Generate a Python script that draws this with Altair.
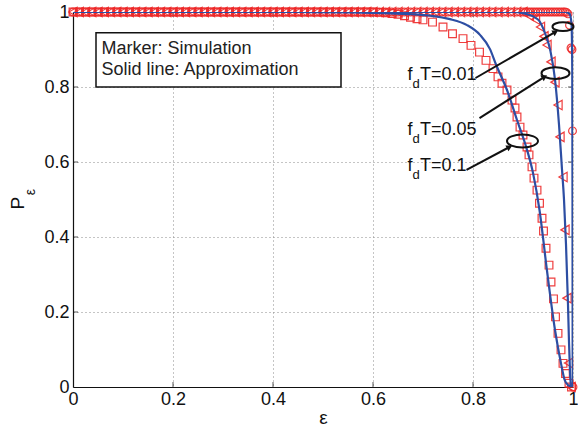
import altair as alt
import pandas as pd

FONT = "Liberation Sans"
RED = "#ee2a2a"
BLUE = "#2d4ea3"

# ---- simulation markers ----
flat_eps = [i / 80 for i in range(73)]  # epsilon sampling grid along P=1 (0 .. 0.9)

sq_eps_curve = [0.613, 0.625, 0.638, 0.65, 0.663, 0.675, 0.688, 0.70, 0.719, 0.74, 0.759, 0.78,
                0.796, 0.813, 0.826, 0.84, 0.85, 0.858, 0.868, 0.878, 0.884, 0.888, 0.894, 0.90,
                0.908, 0.912, 0.918, 0.922, 0.928, 0.933, 0.938, 0.941, 0.946, 0.952, 0.956,
                0.961, 0.965, 0.970, 0.976, 0.980, 0.985, 0.992, 0.997]
sq_P_curve = [0.999, 0.998, 0.996, 0.994, 0.99, 0.986, 0.982, 0.979, 0.973, 0.96, 0.942, 0.929,
              0.911, 0.893, 0.871, 0.849, 0.827, 0.81, 0.792, 0.765, 0.744, 0.72, 0.693, 0.672,
              0.64, 0.619, 0.587, 0.557, 0.525, 0.49, 0.45, 0.416, 0.37, 0.325, 0.28,
              0.235, 0.187, 0.143, 0.099, 0.063, 0.036, 0.01, 0.0]

tri_eps_curve = [0.9125, 0.925, 0.935, 0.942, 0.948, 0.956, 0.964, 0.970, 0.974, 0.980,
                 0.984, 0.988, 0.991, 0.996]
tri_P_curve = [0.99, 0.98, 0.96, 0.935, 0.912, 0.867, 0.813, 0.752, 0.667, 0.56,
               0.419, 0.237, 0.064, 0.0]

cir_eps_curve = [0.905, 0.91, 0.915, 0.92, 0.925, 0.93, 0.935, 0.94, 0.945, 0.95, 0.955, 0.96,
                 0.965, 0.97, 0.975, 0.98, 0.984, 0.987, 0.99, 0.993, 0.996, 0.998, 0.999, 1.0]
cir_P_curve = [1, 1, 1, 1, 1, 1, 1, 1, 1, 1, 1, 1,
               1, 1, 1, 1, 1, 0.999, 0.995, 0.965, 0.904, 0.90, 0.683, 0.0]

# ---- approximation lines ----
l01_eps = [0, 0.45, 0.55, 0.62, 0.68, 0.715, 0.754, 0.788, 0.814, 0.834, 0.846, 0.868, 0.888,
           0.904, 0.920, 0.933, 0.948, 0.964, 0.976, 0.983, 0.990, 1.0]
l01_P = [1, 1, 0.999, 0.997, 0.994, 0.99, 0.981, 0.965, 0.939, 0.901, 0.86, 0.792, 0.712,
         0.65, 0.571, 0.472, 0.31, 0.152, 0.063, 0.02, 0.005, 0.0]

l005_eps = [0, 0.88, 0.90, 0.93, 0.945, 0.955, 0.964, 0.972, 0.978, 0.982, 0.986, 0.99,
            0.992, 0.994, 0.996]
l005_P = [1, 1, 0.997, 0.98, 0.94, 0.895, 0.82, 0.70, 0.58, 0.5, 0.38, 0.22,
          0.12, 0.04, 0.0]

l001_eps = [0, 0.985, 0.993, 0.997, 0.9985, 0.999, 0.9993, 0.9995]
l001_P = [1, 1, 0.995, 0.97, 0.85, 0.5, 0.1, 0.0]

# ---- ticks / text ----
tick_vals = [0, 0.2, 0.4, 0.6, 0.8, 1]
inner_ticks = [0.2, 0.4, 0.6, 0.8]
legend_lines = ["Marker: Simulation", "Solid line: Approximation"]
ann_values = ["0.01", "0.05", "0.1"]

# ---- tables ----
sq = pd.DataFrame({"eps": flat_eps[:49] + sq_eps_curve, "P": [1.0] * 49 + sq_P_curve})
tri = pd.DataFrame({"eps": flat_eps + tri_eps_curve, "P": [1.0] * len(flat_eps) + tri_P_curve})
cir = pd.DataFrame({"eps": flat_eps + cir_eps_curve, "P": [1.0] * len(flat_eps) + cir_P_curve})
lines = pd.concat([
    pd.DataFrame({"eps": l01_eps, "P": l01_P, "s": "0.1"}),
    pd.DataFrame({"eps": l005_eps, "P": l005_P, "s": "0.05"}),
    pd.DataFrame({"eps": l001_eps, "P": l001_P, "s": "0.01"}),
])

xs = alt.Scale(domain=[0, 1], nice=False, zero=False)
ys = alt.Scale(domain=[0, 1], nice=False, zero=False)

XAXIS = alt.Axis(values=tick_vals, format="~g", grid=True, gridDash=[1, 3],
                 gridColor="#8a8a8a", tickSize=0, labelPadding=3, titlePadding=0,
                 labelFlush=False, labelOverlap=False,
                 labelFontSize=18, titleFontSize=19, titleFontWeight="normal",
                 labelFont=FONT, titleFont=FONT, labelColor="#111", titleColor="#111",
                 domainColor="#111", domainWidth=1.2)
YAXIS = alt.Axis(values=tick_vals, format="~g", grid=True, gridDash=[1, 3],
                 gridColor="#8a8a8a", tickSize=0, labelPadding=4,
                 labelFlush=False, labelOverlap=False,
                 labelFontSize=18, labelFont=FONT, labelColor="#111",
                 domainColor="#111", domainWidth=1.2)


def X(f="eps"):
    return alt.X(f"{f}:Q", scale=xs, axis=XAXIS, title="ε")


def Y(f="P"):
    return alt.Y(f"{f}:Q", scale=ys, axis=YAXIS, title=None)


# inward ticks
tdf_x = pd.DataFrame({"eps": inner_ticks * 2, "P": [0.0] * 4 + [1.0] * 4})
tdf_y = pd.DataFrame({"P": inner_ticks * 2, "eps": [0.0] * 4 + [1.0] * 4})
xt = alt.Chart(tdf_x).mark_tick(orient="vertical", size=10, thickness=1, color="#111", clip=True).encode(x=X(), y=Y())
yt = alt.Chart(tdf_y).mark_tick(orient="horizontal", size=10, thickness=1, color="#111", clip=True).encode(x=X(), y=Y())

sq_m = alt.Chart(sq).mark_point(shape="square", size=60, color=RED, strokeWidth=1.2, filled=False, opacity=0.9).encode(x=X(), y=Y())
tri_m = alt.Chart(tri).mark_point(shape="triangle-left", size=90, color=RED, strokeWidth=1.2, filled=False, opacity=0.9).encode(x=X(), y=Y())
cir_m = alt.Chart(cir).mark_point(shape="circle", size=60, color=RED, strokeWidth=1.2, filled=False, opacity=0.9).encode(x=X(), y=Y())

line_m = alt.Chart(lines).mark_line(color=BLUE, strokeWidth=2.2, interpolate="monotone", clip=True).encode(
    x=X(), y=Y(), detail="s:N")

# legend box
box_df = pd.DataFrame({"x1": [0.046], "x2": [0.536], "y1": [0.80], "y2": [0.945]})
box = alt.Chart(box_df).mark_rect(fill="white", stroke="#111", strokeWidth=1.5).encode(
    x=X("x1"), x2="x2", y=Y("y1"), y2="y2")
leg_df = pd.DataFrame({"eps": [0.057, 0.057], "P": [0.901, 0.845], "t": legend_lines})
leg = alt.Chart(leg_df).mark_text(align="left", baseline="middle", font=FONT, fontSize=18, color="#222").encode(
    x=X(), y=Y(), text="t:N")

# annotations: ellipses, arrows, labels
ell_df = pd.DataFrame({"eps": [0.98, 0.965, 0.899], "P": [0.961, 0.837, 0.656], "sz": [441, 784, 961]})
ell = alt.Chart(ell_df).mark_point(
    shape="M -1 0 A 1 0.42 0 1 1 1 0 A 1 0.42 0 1 1 -1 0 Z", filled=False, color="#111", strokeWidth=2,
    opacity=1).encode(x=X(), y=Y(), size=alt.Size("sz:Q", scale=None, legend=None))

arr_df = pd.DataFrame({"x1": [0.805, 0.813, 0.787], "y1": [0.824, 0.717, 0.579],
                       "x2": [0.965, 0.943, 0.873], "y2": [0.947, 0.827, 0.640],
                       "ang": [60, 58, 62]})
arr = alt.Chart(arr_df).mark_rule(color="#111", strokeWidth=2).encode(
    x=X("x1"), y=Y("y1"), x2="x2", y2="y2")
head = alt.Chart(arr_df).mark_point(shape="triangle-up", filled=True, color="#111", size=45, opacity=1).encode(
    x=X("x2"), y=Y("y2"), angle=alt.Angle("ang:Q", scale=None))

lab_df = pd.DataFrame({"eps": [0.669, 0.669, 0.669], "P": [0.833, 0.685, 0.589], "v": ann_values})
lab_df["tv"] = "T=" + lab_df["v"]
lab_f = alt.Chart(lab_df).mark_text(text="f", align="left", baseline="middle", font=FONT, fontSize=18, color="#111").encode(
    x=X(), y=Y())
lab_d = alt.Chart(lab_df).mark_text(text="d", align="left", baseline="middle", font=FONT, fontSize=13, color="#111",
                                    dx=5, dy=9).encode(x=X(), y=Y())
lab_t = alt.Chart(lab_df).mark_text(align="left", baseline="middle", font=FONT, fontSize=18, color="#111", dx=12.5).encode(
    x=X(), y=Y(), text="tv:N")

# y axis title P_eps
yl_df = pd.DataFrame({"eps": [-0.111], "P": [0.49]})
yl = alt.Chart(yl_df).mark_text(text="P", angle=270, baseline="middle", align="center", font=FONT, fontSize=19,
                                color="#111").encode(x=X(), y=Y())
yl2_df = pd.DataFrame({"eps": [-0.084], "P": [0.52]})
yl2 = alt.Chart(yl2_df).mark_text(text="ε", angle=270, baseline="middle", align="center", font=FONT, fontSize=14,
                                  color="#111").encode(x=X(), y=Y())

chart = alt.layer(xt, yt, sq_m, tri_m, cir_m, line_m, box, leg, ell, arr, head, lab_f, lab_d, lab_t, yl, yl2).properties(
    width=500, height=375,
    padding={"left": 73, "top": 12, "right": 5, "bottom": 44},
    autosize=alt.AutoSizeParams(type="none"),
).configure_view(stroke="#111", strokeWidth=1.2).configure(background="white")

chart.save("out.html", embed_options={"renderer": "svg", "actions": False})
